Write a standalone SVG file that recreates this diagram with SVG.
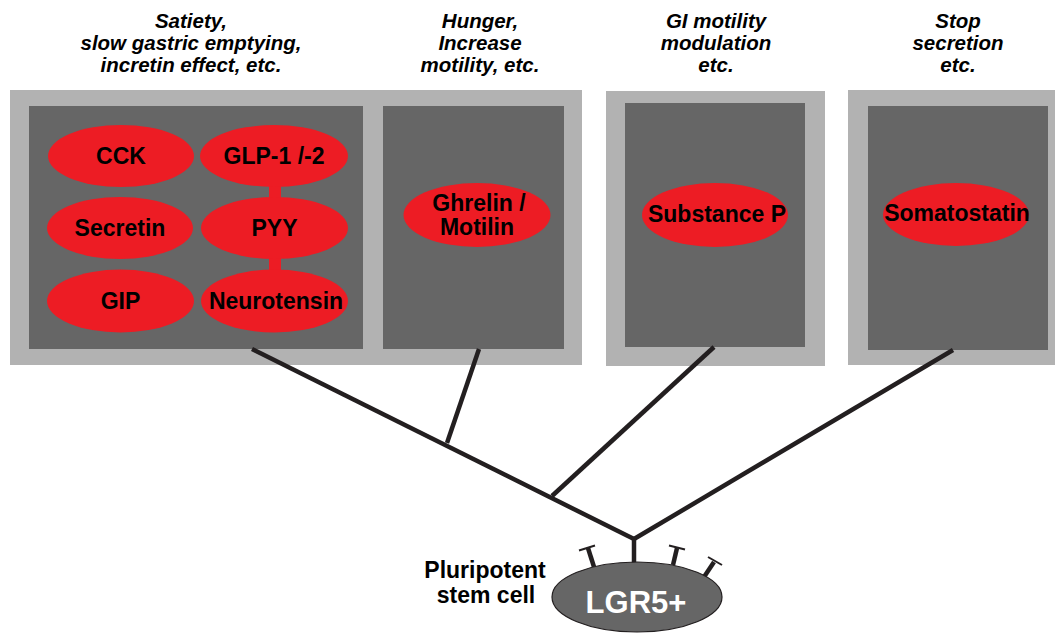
<svg xmlns="http://www.w3.org/2000/svg" width="1055" height="635" viewBox="0 0 1055 635">
<style>
.outer{fill:#b2b2b2}
.inner{fill:#666666}
.hormone{fill:#ed1c24}
.ht{font-family:"Liberation Sans",Arial,sans-serif;font-weight:bold;font-size:23px;fill:#000;text-anchor:middle}
.lab{font-family:"Liberation Sans",Arial,sans-serif;font-weight:bold;font-style:italic;font-size:20.5px;fill:#000;text-anchor:middle}
.conn{stroke:#231f20;stroke-width:4.5;fill:none;stroke-linecap:butt}
.rec{stroke:#231f20;fill:none}
</style>
<rect width="1055" height="635" fill="#fff"/>
<g id="labels">
<text class="lab" x="191" y="28">Satiety,</text>
<text class="lab" x="191" y="50">slow gastric emptying,</text>
<text class="lab" x="191" y="72">incretin effect, etc.</text>
<text class="lab" x="480" y="28">Hunger,</text>
<text class="lab" x="480" y="50">Increase</text>
<text class="lab" x="480" y="72">motility, etc.</text>
<text class="lab" x="716" y="28">GI motility</text>
<text class="lab" x="716" y="50">modulation</text>
<text class="lab" x="716" y="72">etc.</text>
<text class="lab" x="958" y="28">Stop</text>
<text class="lab" x="958" y="50">secretion</text>
<text class="lab" x="958" y="72">etc.</text>
</g>
<g id="box-group1">
<rect class="outer" x="10" y="90" width="572" height="275"/>
<rect class="inner" x="29" y="106" width="334" height="243"/>
<rect class="inner" x="383" y="106" width="181" height="243"/>
</g>
<g id="box-group2">
<rect class="outer" x="606" y="91" width="219" height="275"/>
<rect class="inner" x="625" y="103" width="180" height="244"/>
</g>
<g id="box-group3">
<rect class="outer" x="848" y="90" width="207" height="275"/>
<rect class="inner" x="868" y="106" width="180" height="244"/>
</g>
<g id="glp-pyy-link"><rect class="hormone" x="269" y="170" width="12" height="115"/></g>
<g id="cck"><ellipse class="hormone" cx="121" cy="156" rx="73" ry="31"/><text class="ht" x="121" y="164" font-size="24">CCK</text></g>
<g id="glp"><ellipse class="hormone" cx="274" cy="156" rx="74" ry="31"/><text class="ht" x="274" y="164">GLP-1 /-2</text></g>
<g id="secretin"><ellipse class="hormone" cx="120" cy="228" rx="73" ry="31"/><text class="ht" x="120" y="236">Secretin</text></g>
<g id="pyy"><ellipse class="hormone" cx="274.5" cy="228" rx="73.5" ry="31"/><text class="ht" x="274.5" y="236">PYY</text></g>
<g id="gip"><ellipse class="hormone" cx="120.5" cy="301" rx="73.5" ry="31.5"/><text class="ht" x="120.5" y="309">GIP</text></g>
<g id="neurotensin"><ellipse class="hormone" cx="274.5" cy="301" rx="73.5" ry="31.5"/><text class="ht" x="276" y="309" font-size="22.5">Neurotensin</text></g>
<g id="ghrelin"><ellipse class="hormone" cx="477" cy="215" rx="73.5" ry="32"/><text class="ht" x="479" y="211" font-size="21.5">Ghrelin /</text><text class="ht" x="477" y="235" font-size="21.5">Motilin</text></g>
<g id="substance-p"><ellipse class="hormone" cx="715" cy="215" rx="73" ry="32"/><text class="ht" x="717" y="222" font-size="20">Substance P</text></g>
<g id="somatostatin"><ellipse class="hormone" cx="956" cy="214.5" rx="73" ry="31.5"/><text class="ht" x="957" y="221" font-size="20">Somatostatin</text></g>
<g id="connectors">
<line class="conn" x1="252" y1="349" x2="634" y2="539"/>
<line class="conn" x1="479" y1="349" x2="447" y2="443"/>
<line class="conn" x1="714" y1="347" x2="552" y2="496"/>
<line class="conn" x1="953" y1="350" x2="634" y2="539"/>
<line class="conn" x1="634" y1="537" x2="634" y2="563"/>
</g>
<g id="stem-cell">
<line class="rec" stroke-width="4.5" x1="594" y1="567" x2="588" y2="548"/>
<line class="rec" stroke-width="2" x1="579" y1="550.5" x2="595" y2="545.5"/>
<line class="rec" stroke-width="4.5" x1="673" y1="565" x2="677" y2="548"/>
<line class="rec" stroke-width="2" x1="669" y1="545.5" x2="685" y2="549.5"/>
<line class="rec" stroke-width="4.5" x1="704" y1="577" x2="714" y2="562"/>
<line class="rec" stroke-width="2" x1="708" y1="557" x2="722" y2="565"/>
<ellipse cx="637" cy="597" rx="85" ry="35" fill="#666666" stroke="#231f20" stroke-width="1.2"/>
<text x="636" y="613" font-family="'Liberation Sans',Arial,sans-serif" font-weight="bold" font-size="31" fill="#fff" text-anchor="middle">LGR5+</text>
</g>
<g id="stem-label">
<text class="ht" x="485" y="578" font-size="23.5">Pluripotent</text>
<text class="ht" x="486" y="603" font-size="23.5">stem cell</text>
</g>
</svg>
